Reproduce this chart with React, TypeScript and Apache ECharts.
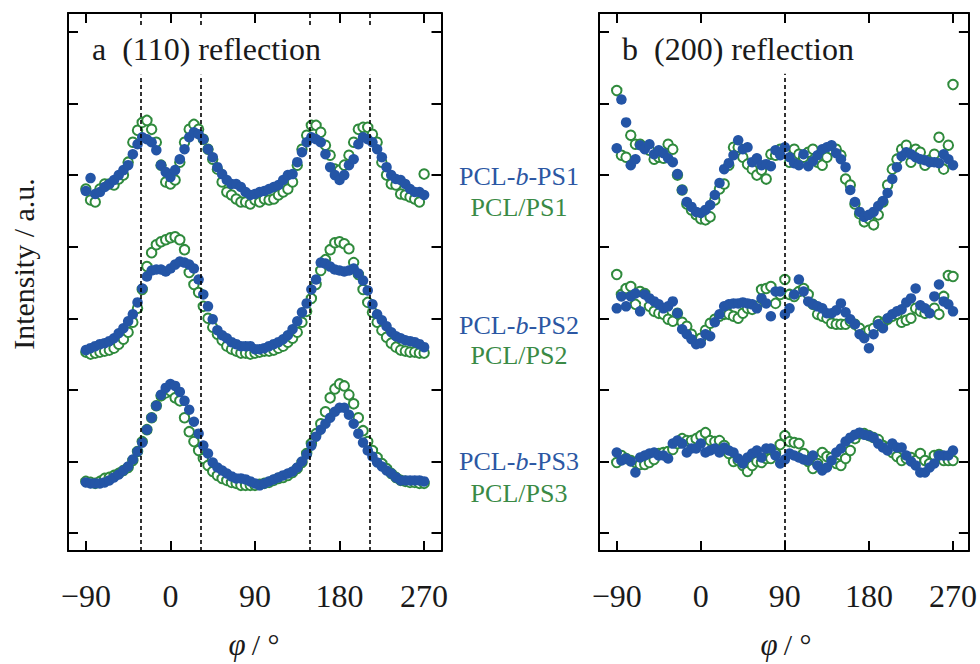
import React, { useEffect, useRef } from "react";
import * as echarts from "echarts";

// Azimuthal angle φ (degrees)
const PHI = [
  -90, -85, -80, -75, -70, -65, -60, -55, -50, -45,
  -40, -35, -30, -25, -20, -15, -10, -5, 0, 5,
  10, 15, 20, 25, 30, 35, 40, 45, 50, 55,
  60, 65, 70, 75, 80, 85, 90, 95, 100, 105,
  110, 115, 120, 125, 130, 135, 140, 145, 150, 155,
  160, 165, 170, 175, 180, 185, 190, 195, 200, 205,
  210, 215, 220, 225, 230, 235, 240, 245, 250, 255,
  260, 265, 270,
];

const X_TICKS = [-90, 0, 90, 180, 270];
const Y_TICKS = [0, 72, 144, 216, 288, 360, 432, 504];
const DASH_A = [-32, 32, 148, 212];
const DASH_B = [90];

// (110) reflection, offset intensities (a.u.)
const aBlue1 = [
  344, 357, 341, 343, 348, 351, 355, 360, 365, 370,
  381, 391, 398, 396, 393, 385, 370, 363, 358, 365,
  376, 386, 398, 403, 401, 396, 386, 378, 368, 361,
  355, 351, 351, 348, 343, 340, 341, 343, 344, 346,
  348, 350, 355, 360, 361, 373, 383, 393, 398, 396,
  393, 381, 368, 360, 355, 360, 370, 376, 391, 398,
  396, 393, 386, 378, 368, 360, 356, 355, 351, 346,
  343, 343, 340,
];
const aGreen1 = [
  346, 335, 333, 346, 351, 351, 350, 356, 360, 373,
  393, 405, 413, 415, 406, 393, 370, 353, 351, 355,
  373, 393, 406, 411, 406, 396, 386, 376, 366, 353,
  343, 340, 336, 333, 333, 331, 335, 333, 336, 335,
  336, 340, 343, 346, 353, 370, 386, 400, 410, 410,
  403, 390, 380, 366, 365, 370, 380, 393, 406, 408,
  408, 401, 393, 373, 360, 351, 350, 341, 340, 338,
  336, 333, 361,
];
const aBlue2 = [
  184, 186, 188, 190, 191, 193, 196, 201, 206, 213,
  220, 232, 246, 258, 264, 265, 265, 263, 266, 270,
  273, 272, 270, 266, 255, 240, 228, 215, 204, 199,
  196, 192, 190, 188, 188, 188, 185, 185, 186, 188,
  190, 192, 195, 199, 205, 213, 222, 231, 245, 255,
  272, 271, 268, 265, 264, 263, 264, 266, 261, 254,
  244, 230, 220, 214, 208, 202, 198, 196, 194, 193,
  192, 190, 187,
];
const aGreen2 = [
  182, 180, 181, 182, 183, 184, 186, 190, 195, 202,
  212, 226, 245, 268, 282, 290, 293, 295, 297, 298,
  295, 285, 262, 250, 242, 228, 216, 207, 200, 194,
  188, 185, 183, 181, 181, 180, 181, 182, 183, 183,
  184, 186, 188, 192, 196, 202, 212, 223, 236, 250,
  264, 275, 285, 292, 293, 291, 286, 272, 260, 245,
  232, 222, 212, 204, 197, 191, 187, 184, 183, 182,
  182, 181, 181,
];
const aBlue3 = [
  51, 50, 50, 50, 51, 53, 56, 59, 63, 67,
  74, 82, 91, 104, 116, 128, 139, 146, 150, 148,
  142, 133, 124, 112, 100, 88, 80, 71, 66, 63,
  60, 57, 55, 55, 54, 52, 50, 48, 50, 52,
  54, 56, 58, 60, 62, 66, 72, 79, 88, 97,
  104, 110, 116, 122, 126, 126, 119, 110, 100, 91,
  83, 77, 71, 67, 63, 60, 56, 53, 53, 53,
  53, 53, 52,
];
const aGreen3 = [
  52, 51, 50, 52, 55, 56, 58, 60, 63, 66,
  73, 82, 92, 104, 116, 128, 138, 141, 143, 136,
  133, 116, 102, 92, 83, 75, 68, 62, 58, 55,
  53, 51, 50, 48, 48, 48, 48, 49, 50, 51,
  53, 55, 56, 58, 61, 65, 71, 80, 90, 100,
  110, 122, 136, 145, 150, 148, 139, 130, 116, 103,
  92, 83, 76, 70, 65, 60, 56, 53, 52, 51,
  51, 50, 50,
];

// (200) reflection, offset intensities (a.u.)
const bBlue1 = [
  387, 436, 413, 370, 376, 390, 386, 391, 381, 385,
  382, 377, 373, 361, 345, 333, 328, 323, 322, 325,
  330, 340, 352, 366, 372, 380, 395, 386, 388, 373,
  377, 370, 371, 369, 385, 380, 388, 378, 372, 370,
  381, 369, 374, 380, 386, 388, 390, 382, 376, 368,
  345, 333, 323, 318, 320, 323, 329, 334, 342, 356,
  368, 379, 383, 381, 378, 376, 375, 373, 373, 372,
  381, 376, 370,
];
const bGreen1 = [
  445, 380, 378, 400, 391, 391, 388, 385, 376, 378,
  377, 391, 386, 360, 345, 331, 325, 320, 316, 315,
  318, 335, 346, 351, 370, 388, 388, 378, 371, 366,
  360, 365, 356, 381, 380, 386, 384, 373, 386, 381,
  378, 383, 386, 373, 370, 378, 386, 386, 380, 356,
  350, 331, 321, 313, 316, 310, 320, 333, 350, 366,
  376, 386, 390, 373, 386, 383, 370, 375, 381, 398,
  366, 390, 451,
];
const bBlue2 = [
  226, 238, 228, 238, 241, 223, 240, 236, 233, 230,
  226, 228, 233, 221, 205, 200, 195, 190, 191, 200,
  198, 212, 220, 228, 230, 231, 231, 232, 231, 230,
  226, 236, 231, 218, 243, 243, 220, 226, 240, 255,
  243, 233, 230, 228, 226, 221, 221, 224, 231, 222,
  215, 210, 200, 196, 186, 200, 210, 206, 216, 220,
  223, 225, 232, 236, 246, 229, 226, 221, 238, 250,
  233, 230, 223,
];
const bGreen2 = [
  260, 240, 246, 248, 230, 243, 241, 228, 223, 221,
  220, 215, 213, 221, 212, 208, 200, 193, 196, 204,
  211, 215, 218, 220, 220, 218, 216, 221, 226, 225,
  228, 245, 246, 248, 231, 240, 255, 240, 238, 243,
  246, 240, 230, 220, 218, 216, 211, 210, 210, 210,
  213, 210, 206, 201, 204, 206, 213, 211, 215, 218,
  220, 212, 214, 216, 226, 223, 221, 223, 226, 220,
  238, 259, 258,
];
const bBlue3 = [
  81, 73, 75, 72, 61, 76, 78, 80, 81, 78,
  78, 75, 90, 93, 90, 81, 85, 85, 90, 81,
  83, 85, 81, 86, 83, 81, 75, 70, 76, 80,
  83, 76, 85, 85, 78, 70, 74, 80, 78, 76,
  74, 73, 78, 68, 63, 66, 73, 81, 85, 92,
  96, 99, 101, 99, 98, 96, 90, 86, 83, 90,
  86, 86, 78, 72, 68, 61, 61, 66, 70, 78,
  78, 78, 83,
];
const bGreen3 = [
  71, 78, 75, 73, 71, 69, 69, 71, 74, 80,
  81, 82, 84, 90, 95, 93, 93, 95, 98, 101,
  93, 92, 93, 88, 80, 72, 73, 68, 62, 68,
  72, 71, 75, 75, 80, 89, 98, 92, 91, 90,
  80, 72, 65, 70, 81, 77, 76, 70, 68, 75,
  83, 95, 100, 100, 98, 96, 94, 88, 86, 81,
  77, 73, 75, 76, 73, 80, 73, 70, 78, 79,
  73, 73, 73,
];

const SAMPLE_LABELS = [
  { blue: "PCL-{i|b}-PS1", green: "PCL/PS1" },
  { blue: "PCL-{i|b}-PS2", green: "PCL/PS2" },
  { blue: "PCL-{i|b}-PS3", green: "PCL/PS3" },
];

const FONT = '"Liberation Serif", "Times New Roman", "DejaVu Serif", serif';
const BLUE = "#2455a6";
const GREEN = "#2f8a3c";
const BLUE_TXT = "#2b57a3";
const GREEN_TXT = "#3a8a45";
const INK = "#1a1a1a";

const Y_MIN = -18;
const Y_MAX = 523;

function pairs(arr: number[]) {
  return PHI.map((p, i) => [p, arr[i]]);
}

function fmtX(v: number) {
  return v < 0 ? "\u2212" + Math.abs(v) : String(v);
}

export default function App() {
  const ref = useRef<HTMLDivElement>(null);

  useEffect(() => {
    document.body.style.margin = "0";
    if (!ref.current) return;
    const chart = echarts.init(ref.current, undefined, { renderer: "svg" });

    const frameLine = { show: true, onZero: false, lineStyle: { color: "#000", width: 2 } };
    const tick = (vals: number[]) => ({
      show: true,
      inside: true,
      length: 10,
      customValues: vals,
      lineStyle: { color: "#000", width: 2 },
    });

    const xRanges = [
      { min: -109, max: 288.5 },
      { min: -109, max: 287 },
    ];

    const xAxes: any[] = [];
    const yAxes: any[] = [];
    [0, 1].forEach((g) => {
      xAxes.push({
        gridIndex: g,
        type: "value",
        position: "bottom",
        min: xRanges[g].min,
        max: xRanges[g].max,
        axisLine: frameLine,
        axisTick: tick(X_TICKS),
        axisLabel: {
          show: true,
          customValues: X_TICKS,
          formatter: fmtX,
          fontFamily: FONT,
          fontSize: 32,
          color: INK,
          margin: 29,
        },
        splitLine: { show: false },
      });
      xAxes.push({
        gridIndex: g,
        type: "value",
        position: "top",
        min: xRanges[g].min,
        max: xRanges[g].max,
        axisLine: frameLine,
        axisTick: tick(X_TICKS),
        axisLabel: { show: false },
        splitLine: { show: false },
      });
      yAxes.push({
        gridIndex: g,
        type: "value",
        position: "left",
        min: Y_MIN,
        max: Y_MAX,
        axisLine: frameLine,
        axisTick: tick(Y_TICKS),
        axisLabel: { show: false },
        splitLine: { show: false },
      });
      yAxes.push({
        gridIndex: g,
        type: "value",
        position: "right",
        min: Y_MIN,
        max: Y_MAX,
        axisLine: frameLine,
        axisTick: tick(Y_TICKS),
        axisLabel: { show: false },
        splitLine: { show: false },
      });
    });

    const dashStyle = { color: "#000", width: 1.6, type: [4, 3] as any };

    const mkDash = (xs: number[], segs: number[][]) => ({
      silent: true,
      symbol: ["none", "none"],
      label: { show: false },
      lineStyle: dashStyle,
      data: xs.flatMap((x) =>
        segs.map((s) => [{ coord: [x, s[0]] }, { coord: [x, s[1]] }])
      ),
    });

    const greenSeries = (data: number[], g: number, extra: any = {}) => ({
      type: "scatter",
      xAxisIndex: g * 2,
      yAxisIndex: g * 2,
      symbol: "emptyCircle",
      symbolSize: 9.5,
      itemStyle: { color: GREEN, borderColor: GREEN, borderWidth: 1.8, opacity: 1 },
      data: pairs(data),
      z: 2,
      ...extra,
    });
    const blueSeries = (data: number[], g: number) => ({
      type: "scatter",
      xAxisIndex: g * 2,
      yAxisIndex: g * 2,
      symbol: "circle",
      symbolSize: 10.5,
      itemStyle: { color: BLUE, opacity: 1 },
      data: pairs(data),
      z: 3,
    });

    const series: any[] = [
      greenSeries(aGreen1, 0, {
        markLine: mkDash(DASH_A, [
          [Y_MIN, 461],
          [511, Y_MAX],
        ]),
      }),
      greenSeries(aGreen2, 0),
      greenSeries(aGreen3, 0),
      blueSeries(aBlue1, 0),
      blueSeries(aBlue2, 0),
      blueSeries(aBlue3, 0),
      greenSeries(bGreen1, 1, {
        markLine: mkDash(DASH_B, [[Y_MIN, 462]]),
      }),
      greenSeries(bGreen2, 1),
      greenSeries(bGreen3, 1),
      blueSeries(bBlue1, 1),
      blueSeries(bBlue2, 1),
      blueSeries(bBlue3, 1),
    ];

    const labelYs = [
      [176, 207],
      [325, 355],
      [461, 493],
    ];

    const graphic: any[] = [
      {
        type: "text",
        x: 23,
        y: 264,
        rotation: Math.PI / 2,
        style: {
          text: "Intensity / a.u.",
          font: `30px ${FONT}`,
          fill: INK,
          align: "center",
          verticalAlign: "middle",
        },
      },
      {
        type: "text",
        x: 92,
        y: 49,
        style: {
          text: "a\u00a0\u00a0(110) reflection",
          font: `32px ${FONT}`,
          fill: INK,
          align: "left",
          verticalAlign: "middle",
        },
      },
      {
        type: "text",
        x: 622,
        y: 49,
        style: {
          text: "b\u00a0\u00a0(200) reflection",
          font: `32px ${FONT}`,
          fill: INK,
          align: "left",
          verticalAlign: "middle",
        },
      },
      ...[254, 786].map((cx) => ({
        type: "text",
        x: cx,
        y: 644,
        style: {
          text: "{i|\u03c6}\u2009/ °",
          font: `30px ${FONT}`,
          fill: INK,
          align: "center",
          verticalAlign: "middle",
          rich: {
            i: { fontStyle: "italic", fontFamily: FONT, fontSize: 31, fill: INK },
          },
        },
      })),
      ...SAMPLE_LABELS.flatMap((lab, k) => [
        {
          type: "text",
          x: 519,
          y: labelYs[k][0],
          style: {
            text: lab.blue,
            font: `26px ${FONT}`,
            fill: BLUE_TXT,
            align: "center",
            verticalAlign: "middle",
            rich: {
              i: { fontStyle: "italic", fontFamily: FONT, fontSize: 26, fill: BLUE_TXT },
            },
          },
        },
        {
          type: "text",
          x: 519,
          y: labelYs[k][1],
          style: {
            text: lab.green,
            font: `26px ${FONT}`,
            fill: GREEN_TXT,
            align: "center",
            verticalAlign: "middle",
          },
        },
      ]),
    ];

    chart.setOption({
      animation: false,
      backgroundColor: "#fff",
      textStyle: { fontFamily: FONT },
      grid: [
        { left: 68, top: 13, width: 373.5, height: 538, containLabel: false },
        { left: 599, top: 13, width: 373, height: 538, containLabel: false },
      ],
      xAxis: xAxes,
      yAxis: yAxes,
      series,
      graphic,
    });

    return () => chart.dispose();
  }, []);

  return <div ref={ref} style={{ width: 980, height: 664 }} />;
}
